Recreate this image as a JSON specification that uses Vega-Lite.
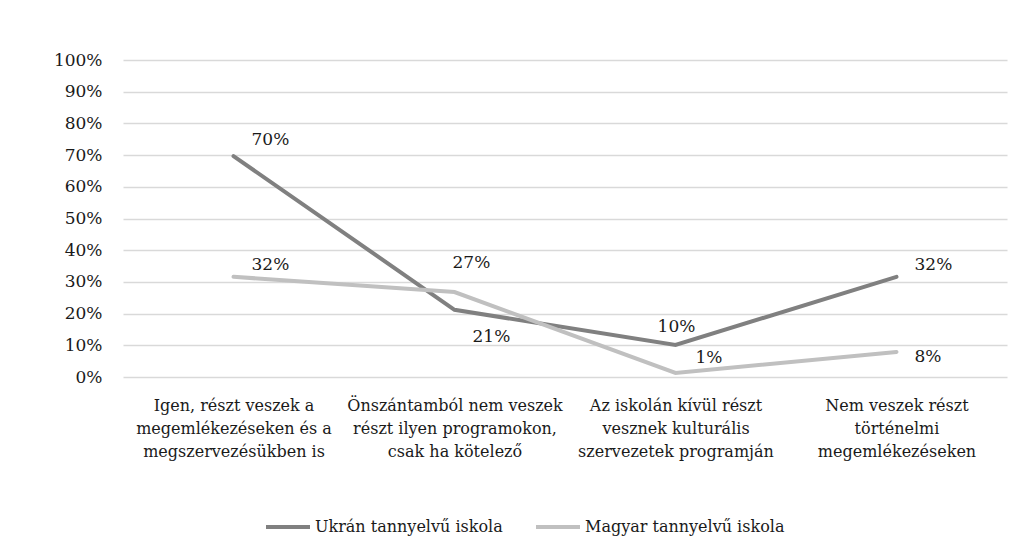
{
  "$schema": "https://vega.github.io/schema/vega-lite/v6.json",
  "autosize": "none",
  "width": 884,
  "height": 317,
  "padding": {"left": 123, "top": 60, "right": 16, "bottom": 180},
  "background": "white",
  "config": {
    "view": {"stroke": null},
    "font": "DejaVu Serif",
    "text": {"font": "DejaVu Serif", "fontSize": 17, "fill": "#1a1a1a"}
  },
  "data": {
    "values": [
      {"series": "Ukrán tannyelvű iskola", "cat": "Igen, részt veszek a|megemlékezéseken és a|megszervezésükben is", "k": 1, "v": 0.697},
      {"series": "Ukrán tannyelvű iskola", "cat": "Önszántamból nem veszek|részt ilyen programokon,|csak ha kötelező", "k": 2, "v": 0.212},
      {"series": "Ukrán tannyelvű iskola", "cat": "Az iskolán kívül részt|vesznek kulturális|szervezetek programján", "k": 3, "v": 0.101},
      {"series": "Ukrán tannyelvű iskola", "cat": "Nem veszek részt|történelmi|megemlékezéseken", "k": 4, "v": 0.316},
      {"series": "Magyar tannyelvű iskola", "cat": "Igen, részt veszek a|megemlékezéseken és a|megszervezésükben is", "k": 1, "v": 0.316},
      {"series": "Magyar tannyelvű iskola", "cat": "Önszántamból nem veszek|részt ilyen programokon,|csak ha kötelező", "k": 2, "v": 0.268},
      {"series": "Magyar tannyelvű iskola", "cat": "Az iskolán kívül részt|vesznek kulturális|szervezetek programján", "k": 3, "v": 0.013},
      {"series": "Magyar tannyelvű iskola", "cat": "Nem veszek részt|történelmi|megemlékezéseken", "k": 4, "v": 0.079}
    ]
  },
  "encoding": {
    "x": {
      "field": "cat", "type": "nominal",
      "sort": {"field": "k"},
      "axis": {
        "title": null, "labelAngle": 0, "domain": false, "ticks": false,
        "labelExpr": "split(datum.label, '|')",
        "labelFont": "DejaVu Serif", "labelFontSize": 16, "labelColor": "#1a1a1a",
        "labelLineHeight": 23, "labelBaseline": "top", "labelPadding": 20,
        "labelLimit": 300
      }
    },
    "y": {
      "field": "v", "type": "quantitative",
      "scale": {"domain": [0, 1]},
      "axis": {
        "title": null, "values": [0, 0.1, 0.2, 0.3, 0.4, 0.5, 0.6, 0.7, 0.8, 0.9, 1],
        "format": ".0%", "domain": false, "ticks": false,
        "labelFont": "DejaVu Serif", "labelFontSize": 17, "labelColor": "#1a1a1a",
        "labelPadding": 21, "gridColor": "#d9d9d9", "gridWidth": 1.5
      }
    }
  },
  "layer": [
    {
      "mark": {"type": "line", "strokeWidth": 4, "strokeCap": "round"},
      "encoding": {
        "color": {
          "field": "series", "type": "nominal",
          "scale": {"domain": ["Ukrán tannyelvű iskola", "Magyar tannyelvű iskola"], "range": ["#808080", "#c0c0c0"]},
          "legend": {
            "title": null, "orient": "none", "direction": "horizontal",
            "legendX": 141, "legendY": 443,
            "symbolType": "stroke", "symbolSize": 1936, "symbolStrokeWidth": 4,
            "labelFont": "DejaVu Serif", "labelFontSize": 16, "labelColor": "#1a1a1a",
            "labelOffset": 3, "columnPadding": 25, "labelLimit": 300
          }
        }
      }
    },
    {
      "transform": [{"filter": "datum.series == 'Ukrán tannyelvű iskola' && datum.k == 1"}],
      "mark": {"type": "text", "align": "left", "baseline": "middle", "dx": 18, "dy": -16},
      "encoding": {"text": {"field": "v", "format": ".0%"}}
    },
    {
      "transform": [{"filter": "datum.series == 'Magyar tannyelvű iskola' && datum.k == 1"}],
      "mark": {"type": "text", "align": "left", "baseline": "middle", "dx": 18, "dy": -12},
      "encoding": {"text": {"field": "v", "format": ".0%"}}
    },
    {
      "transform": [{"filter": "datum.series == 'Magyar tannyelvű iskola' && datum.k == 2"}],
      "mark": {"type": "text", "align": "left", "baseline": "middle", "dx": -2, "dy": -29},
      "encoding": {"text": {"field": "v", "format": ".0%"}}
    },
    {
      "transform": [{"filter": "datum.series == 'Ukrán tannyelvű iskola' && datum.k == 2"}],
      "mark": {"type": "text", "align": "left", "baseline": "middle", "dx": 18, "dy": 27},
      "encoding": {"text": {"field": "v", "format": ".0%"}}
    },
    {
      "transform": [{"filter": "datum.series == 'Ukrán tannyelvű iskola' && datum.k == 3"}],
      "mark": {"type": "text", "align": "center", "baseline": "middle", "dx": 1, "dy": -18},
      "encoding": {"text": {"field": "v", "format": ".0%"}}
    },
    {
      "transform": [{"filter": "datum.series == 'Magyar tannyelvű iskola' && datum.k == 3"}],
      "mark": {"type": "text", "align": "left", "baseline": "middle", "dx": 20, "dy": -15},
      "encoding": {"text": {"field": "v", "format": ".0%"}}
    },
    {
      "transform": [{"filter": "datum.series == 'Ukrán tannyelvű iskola' && datum.k == 4"}],
      "mark": {"type": "text", "align": "left", "baseline": "middle", "dx": 18, "dy": -12},
      "encoding": {"text": {"field": "v", "format": ".0%"}}
    },
    {
      "transform": [{"filter": "datum.series == 'Magyar tannyelvű iskola' && datum.k == 4"}],
      "mark": {"type": "text", "align": "left", "baseline": "middle", "dx": 18, "dy": 5},
      "encoding": {"text": {"field": "v", "format": ".0%"}}
    }
  ]
}
